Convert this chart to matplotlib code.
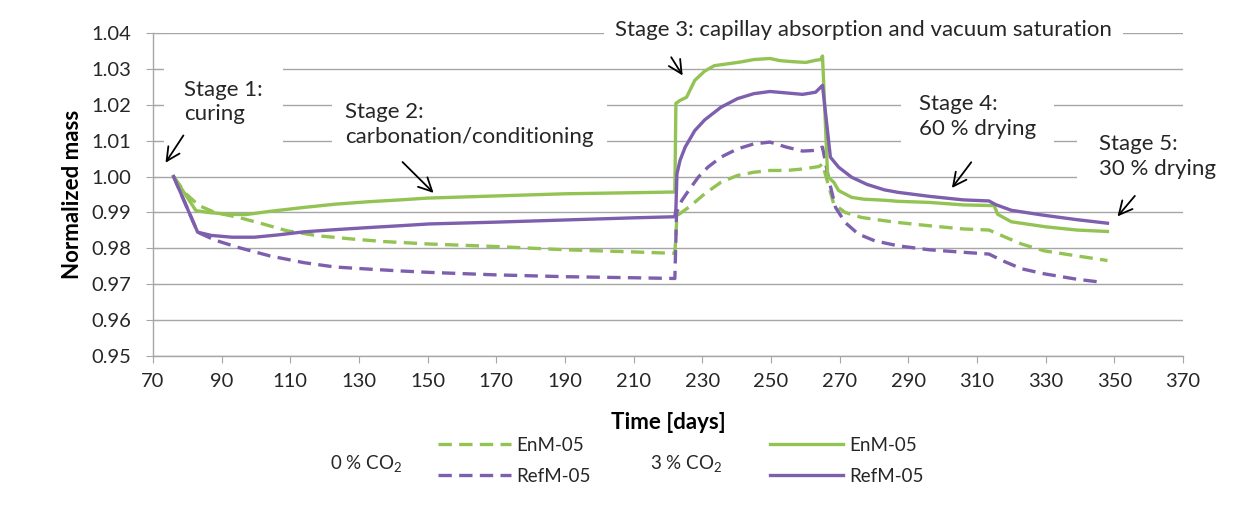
import matplotlib
matplotlib.use("Agg")
import matplotlib.pyplot as plt
from matplotlib.lines import Line2D

plt.rcParams['font.family'] = ['Lato', 'DejaVu Sans']
plt.rcParams['mathtext.default'] = 'regular'

# 3 % CO2, EnM-05 (solid green)
enm_3_days = [76, 82.5, 86, 92, 97, 104, 114, 123, 133, 142, 150, 170, 190, 210, 222,
              222.3, 223.5, 225.4, 227.8, 230.7, 233.5, 237.3, 241, 245, 249.7, 252.6,
              256.4, 260.2, 263, 264.5, 265, 266.5, 268.3, 269.7, 273.5, 277, 283, 287,
              296, 306, 315, 316, 320, 330, 339, 348]
enm_3_mass = [1.000, 0.9905, 0.9900, 0.9895, 0.9894, 0.9903, 0.9914, 0.9923, 0.9930, 0.9935,
              0.9940, 0.9946, 0.9952, 0.9955, 0.9957, 1.0204, 1.0212, 1.0221, 1.0268, 1.0294,
              1.0309, 1.0314, 1.0319, 1.0326, 1.0329, 1.0323, 1.0320, 1.0318, 1.0324, 1.0326,
              1.0336, 1.0000, 0.9984, 0.9961, 0.9942, 0.9937, 0.9934, 0.9931, 0.9928, 0.9921,
              0.9919, 0.9895, 0.9874, 0.9860, 0.9851, 0.9847]

# 3 % CO2, RefM-05 (solid purple)
ref_3_days = [76, 83, 87, 93, 99.5, 106, 114, 123, 133, 142, 150.5, 170, 190, 210, 222,
              222.3, 222.6, 223.5, 225, 227.8, 230.7, 235.4, 240.2, 245, 249.7, 254.5, 259.2,
              263, 265, 267.3, 269.7, 273.5, 278, 283, 287, 296, 306, 313.5, 315.4, 320,
              329.6, 339, 348]
ref_3_mass = [1.000, 0.9845, 0.9836, 0.9831, 0.9831, 0.9837, 0.9846, 0.9852, 0.9858, 0.9863,
              0.9868, 0.9873, 0.9879, 0.9885, 0.9888, 0.9910, 1.0007, 1.0045, 1.0082, 1.0128,
              1.0158, 1.0193, 1.0217, 1.0231, 1.0237, 1.0233, 1.0229, 1.0235, 1.0254, 1.0054,
              1.0026, 0.9998, 0.9978, 0.9963, 0.9956, 0.9945, 0.9935, 0.9932, 0.9922, 0.9906,
              0.9892, 0.9880, 0.9870]

# 0 % CO2, EnM-05 (dashed green)
enm_0_days = [76, 79.6, 83.4, 88, 95, 102, 109, 118, 128, 137, 150.5, 170, 190, 210, 222,
              222.6, 226, 230.7, 235.4, 240.2, 245, 249.7, 254.5, 259.2, 264, 265, 266.9,
              268.3, 271.6, 276.4, 283, 287, 296, 306, 313.5, 317.3, 323, 329.6, 339, 348]
enm_0_mass = [1.000, 0.9952, 0.9919, 0.9900, 0.9886, 0.9868, 0.9849, 0.9835, 0.9826, 0.9819,
              0.9812, 0.9805, 0.9796, 0.9790, 0.9786, 0.9891, 0.9914, 0.9952, 0.9984, 1.0003,
              1.0012, 1.0017, 1.0017, 1.0021, 1.0028, 1.0035, 0.9970, 0.9923, 0.9900, 0.9886,
              0.9877, 0.9872, 0.9863, 0.9854, 0.9851, 0.9835, 0.9812, 0.9793, 0.9779, 0.9766]

# 0 % CO2, RefM-05 (dashed purple)
ref_0_days = [76, 83, 88, 95, 104, 114, 123, 133, 142, 150.5, 170, 190, 210, 222, 222.5,
              224, 226, 228.8, 231.6, 235.4, 240.2, 245, 249.7, 254.5, 259.2, 263, 265,
              266.9, 268.8, 271.6, 275.4, 280.2, 287, 296, 306, 313.5, 317.3, 323, 329.6,
              339, 346.7]
ref_0_mass = [1.000, 0.9845, 0.9823, 0.9802, 0.9779, 0.9760, 0.9748, 0.9742, 0.9737, 0.9733,
              0.9726, 0.9721, 0.9718, 0.9716, 0.9900, 0.9933, 0.9961, 0.9998, 1.0026, 1.0054,
              1.0077, 1.0091, 1.0096, 1.0082, 1.0071, 1.0073, 1.0082, 0.9989, 0.9914, 0.9872,
              0.9840, 0.9821, 0.9807, 0.9796, 0.9789, 0.9784, 0.9766, 0.9743, 0.9729, 0.9714,
              0.9705]

x_ticks = list(range(70, 371, 20))
y_ticks = [0.95, 0.96, 0.97, 0.98, 0.99, 1.00, 1.01, 1.02, 1.03, 1.04]

green = '#92c353'
purple = '#7d5fae'
grid_col = '#a6a6a6'
text_col = '#262626'

fig = plt.figure(figsize=(12.52, 5.08), dpi=100)
ax = fig.add_axes([153 / 1252, 1 - 356 / 508, (1183 - 153) / 1252, (356 - 33) / 508])

lw = 2.4
dash = (4, 2.2)
ax.plot(enm_0_days, enm_0_mass, color=green, lw=lw, dashes=dash, zorder=3)
ax.plot(ref_0_days, ref_0_mass, color=purple, lw=lw, dashes=dash, zorder=3)
ax.plot(enm_3_days, enm_3_mass, color=green, lw=lw, zorder=3)
ax.plot(ref_3_days, ref_3_mass, color=purple, lw=lw, zorder=3)

ax.set_xlim(70, 370)
ax.set_ylim(0.95, 1.04)
ax.set_xticks(x_ticks)
ax.set_yticks(y_ticks)
ax.set_yticklabels([f"{v:.2f}" for v in y_ticks])
ax.tick_params(axis='y', direction='inout', length=10, color=grid_col, labelsize=14.5,
               labelcolor=text_col, pad=11)
ax.tick_params(axis='x', direction='out', length=5, color=grid_col, labelsize=14.5,
               labelcolor=text_col, pad=7)
ax.set_axisbelow(True)
ax.yaxis.grid(True, color=grid_col, lw=1.0)
for s in ['top', 'right']:
    ax.spines[s].set_visible(False)
for s in ['left', 'bottom']:
    ax.spines[s].set_color(grid_col)
    ax.spines[s].set_linewidth(1.0)

ax.set_ylabel("Normalized mass", fontsize=16, fontweight='bold', color='black', labelpad=6)
ax.set_xlabel("Time [days]", fontsize=16, fontweight='bold', color='black', labelpad=16)

# stage annotations
arrow = dict(arrowstyle='->', color='black', lw=1.3, mutation_scale=24)
box = lambda pad: dict(boxstyle=f'square,pad={pad}', fc='white', ec='none')
fs = 16
ls = 1.3

ax.text(79, 1.0208, "Stage 1:\ncuring", fontsize=fs, color=text_col, ha='left', va='center',
        linespacing=ls, bbox=box(0.9), zorder=1)
ax.annotate("", xy=(73.2, 1.0032), xytext=(79.3, 1.0121), arrowprops=arrow)

ax.text(126, 1.0144, "Stage 2:\ncarbonation/conditioning", fontsize=fs, color=text_col,
        ha='left', va='center', linespacing=ls, bbox=box(0.6), zorder=1)
ax.annotate("", xy=(152.3, 0.9949), xytext=(142.1, 1.0046), arrowprops=arrow)

ax.text(204.6, 1.0408, "Stage 3: capillay absorption and vacuum saturation", fontsize=fs,
        color=text_col, ha='left', va='center', bbox=box(0.5), zorder=1, clip_on=False)
ax.annotate("", xy=(224.7, 1.0275), xytext=(220.5, 1.0339), arrowprops=arrow)

ax.text(293, 1.0167, "Stage 4:\n60 % drying", fontsize=fs, color=text_col, ha='left',
        va='center', linespacing=ls, bbox=box(0.8), zorder=1)
ax.annotate("", xy=(302.2, 0.9962), xytext=(308.8, 1.0046), arrowprops=arrow)

ax.text(345.5, 1.0056, "Stage 5:\n30 % drying", fontsize=fs, color=text_col, ha='left',
        va='center', linespacing=ls, bbox=box(1.0), zorder=1)
ax.annotate("", xy=(350.4, 0.9883), xytext=(356.5, 0.9952), arrowprops=arrow)

# legend
h0 = [Line2D([], [], color=green, lw=lw, dashes=dash),
      Line2D([], [], color=purple, lw=lw, dashes=dash)]
h3 = [Line2D([], [], color=green, lw=lw),
      Line2D([], [], color=purple, lw=lw)]
leg_kw = dict(frameon=False, fontsize=13.5, handlelength=3.9, handletextpad=0.3,
              labelspacing=0.75, borderpad=0, borderaxespad=0, loc='center left',
              labelcolor=text_col)
fig.legend(h0, ["EnM-05", "RefM-05"], bbox_to_anchor=(438 / 1252, 1 - 461 / 508), **leg_kw)
fig.legend(h3, ["EnM-05", "RefM-05"], bbox_to_anchor=(770 / 1252, 1 - 461 / 508), **leg_kw)
fig.text(330 / 1252, 1 - 463 / 508, "0 % CO$_2$", fontsize=13.5, color=text_col, va='center')
fig.text(650 / 1252, 1 - 463 / 508, "3 % CO$_2$", fontsize=13.5, color=text_col, va='center')

fig.savefig("out.png", dpi=100)
